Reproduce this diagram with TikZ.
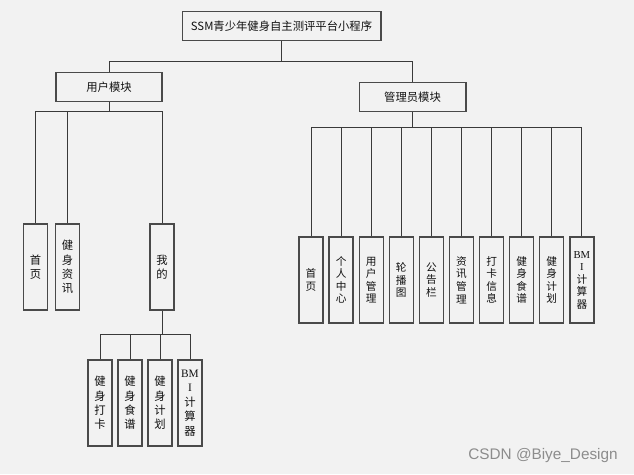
\documentclass[tikz,border=0pt]{standalone}
\usepackage{fontspec}
\setmainfont{Noto Sans CJK SC}
\newfontfamily\wmfont{Liberation Sans}
\newfontfamily\latinserif{Liberation Serif}
\definecolor{ftpanel}{HTML}{F2F2F2}
\definecolor{ftink}{HTML}{111111}
\definecolor{ftedge}{HTML}{4A4A4A}
\definecolor{ftwire}{HTML}{3A3A3A}
\definecolor{ftmuted}{HTML}{8C8C8C}
\tikzset{
  ftbox/.style={
    draw=ftedge, fill=ftpanel, line width=1pt, inner sep=0pt,
    text=ftink},
  ftwide/.style={ftbox, minimum height=22pt,
    font=\fontsize{8.5}{10}\selectfont},
  fttall/.style={ftbox, minimum width=18pt, minimum height=64.5pt,
    align=center, font=\fontsize{8.5}{10.8}\selectfont},
  ftslim/.style={fttall, font=\fontsize{8}{9.4}\selectfont},
  ftlink/.style={draw=ftwire, line width=0.75pt},
}
\newcommand{\bmi}{{\latinserif BM}\\{\latinserif I}\\计\\算\\器}

\begin{document}
\begin{tikzpicture}[x=0.75pt, y=-0.75pt]
\fill[ftpanel] (0,0) rectangle (634,474);
\useasboundingbox (0,0) rectangle (634,474);

% Header.
\node[ftwide, minimum width=149pt] (title) at (281.5,26)
  {SSM青少年健身自主测评平台小程序};

% The two modules.
\node[ftwide, minimum width=79.5pt] (user) at (109,87) {用户模块};
\node[ftwide, minimum width=80pt] (admin) at (412.5,97) {管理员模块};
\coordinate (topbus) at (281.5,62);
\draw[ftlink] (title.south) -- (topbus) -| (user.north);
\draw[ftlink] (topbus) -| (admin.north);

% User side.
\node[fttall] (home) at (35.5,267) {首\\页};
\node[fttall] (news) at (67.5,267) {健\\身\\资\\讯};
\node[fttall] (mine) at (162,267) {我\\的};
\coordinate (userbus) at (109,112);
\draw[ftlink] (user.south) -- (userbus);
\foreach \n in {home,news,mine}
  \draw[ftlink] (userbus) -| (\n.north);

% Pages under the personal page.
\foreach \i/\x/\txt in {%
    1/100/{健\\身\\打\\卡},
    2/130/{健\\身\\食\\谱},
    3/160/{健\\身\\计\\划},
    4/190/{\bmi}} {
  \node[fttall] (mine\i) at (\x,403) {\txt};
}
\coordinate (minebus) at (162,334);
\draw[ftlink] (mine.south) -- (minebus);
\foreach \i in {1,...,4}
  \draw[ftlink] (minebus) -| (mine\i.north);

% Admin side.
\foreach \i/\txt in {%
    1/{首\\页},
    2/{个\\人\\中\\心},
    3/{用\\户\\管\\理},
    4/{轮\\播\\图},
    5/{公\\告\\栏},
    6/{资\\讯\\管\\理},
    7/{打\\卡\\信\\息},
    8/{健\\身\\食\\谱},
    9/{健\\身\\计\\划},
    10/{\bmi}} {
  \node[ftslim] (adm\i) at ({311+30.1*(\i-1)},280) {\txt};
}
\coordinate (adminbus) at (412.5,128);
\draw[ftlink] (admin.south) -- (adminbus);
\foreach \i in {1,...,10}
  \draw[ftlink] (adminbus) -| (adm\i.north);

% Watermark.
\node[font=\wmfont\fontsize{11.5}{13}\selectfont, text=ftmuted] (mark)
  at (543,456) {CSDN @Biye\_Design};

\end{tikzpicture}
\end{document}
